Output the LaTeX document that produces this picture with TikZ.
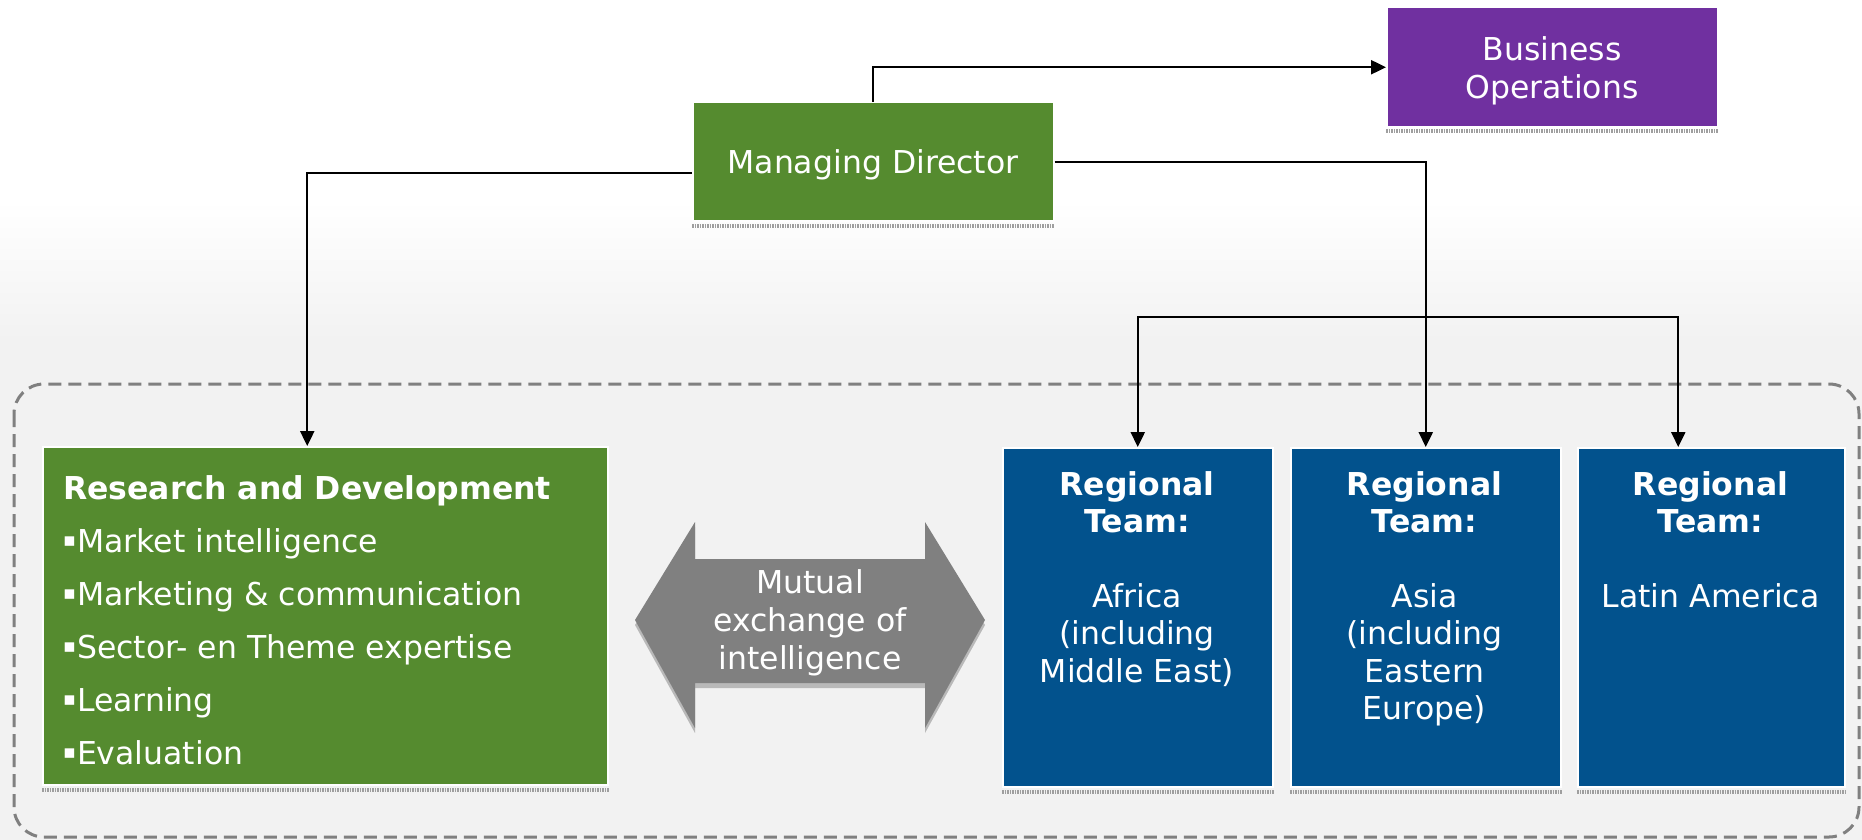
\documentclass[tikz,border=0pt]{standalone}
\usepackage{fontspec}
\setmainfont{DejaVu Sans}
\usetikzlibrary{arrows.meta}
\definecolor{mdgreen}{HTML}{558B2F}
\definecolor{bopurple}{HTML}{7030A0}
\definecolor{rtblue}{HTML}{02528D}
\definecolor{bggray}{HTML}{F2F2F2}
\definecolor{arrgray}{HTML}{808080}
\newcommand\bul{\raisebox{6pt}{\fontsize{19}{19}\selectfont ▪}\hspace{1pt}}
\tikzset{
  boxnode/.style={draw=white, line width=1.5pt, inner sep=0pt, anchor=north west},
  txt/.style={text=white, font=\fontsize{31.5}{37.8}\selectfont, inner sep=0pt, anchor=base},
  btxt/.style={txt, font=\fontsize{31.5}{37.8}\selectfont\bfseries},
  ltxt/.style={txt, anchor=base west},
  arr/.style={line width=2.4pt, -{Triangle[length=15pt,width=14pt]}},
  shstrip/.style={draw=gray!75, line width=4pt, dash pattern=on 1.5pt off 1pt},
  frame/.style={draw=arrgray, line width=3pt, dash pattern=on 13pt off 7pt, rounded corners=30pt}
}
\begin{document}
\begin{tikzpicture}[x=1pt,y=-1pt]
\useasboundingbox (0,0) rectangle (1862,840);
% background
\fill[white] (0,0) rectangle (1862,201);
\shade[top color=white, bottom color=bggray] (0,200) rectangle (1862,341);
\fill[bggray] (0,340) rectangle (1862,840);
% dashed frame
\draw[frame, fill=bggray] (14,384) rectangle (1859,837);

% boxes
\node[boxnode, fill=bopurple, minimum width=331pt, minimum height=119pt] (bo) at (1386,7) {};
\node[boxnode, fill=mdgreen, minimum width=361pt, minimum height=118pt] (md) at (692,102) {};
\node[boxnode, fill=mdgreen, minimum width=565pt, minimum height=338pt] (rd) at (42,446) {};
\node[boxnode, fill=rtblue, minimum width=270pt, minimum height=339pt] (africa) at (1002,447) {};
\node[boxnode, fill=rtblue, minimum width=270pt, minimum height=339pt] (asia) at (1290,447) {};
\node[boxnode, fill=rtblue, minimum width=267pt, minimum height=339pt] (latin) at (1577,447) {};

% box shadows
\foreach \b in {bo,md,rd,africa,asia,latin}{
  \draw[shstrip] ([yshift=-4pt]\b.south west) -- ([yshift=-4pt]\b.south east);
}

% mutual exchange arrow
\fill[gray!55] (635,625) -- (695,527) -- (695,564) -- (925,564) -- (925,527) -- (985,625) -- (925,733) -- (925,688) -- (695,688) -- (695,733) -- cycle;
\fill[arrgray] (635,620) -- (695,522) -- (695,559) -- (925,559) -- (925,522) -- (985,620) -- (925,728) -- (925,683) -- (695,683) -- (695,728) -- cycle;

% texts
\node[txt] (bo1) at (1552,61) {Business};
\node[txt] (bo2) at (1552,99) {Operations};
\node[txt] (mdt) at (873,173) {Managing Director};

\node[btxt, anchor=base west] (rd0) at (63,499) {Research and Development};
\node[ltxt] (rd1) at (63,552) {\bul Market intelligence};
\node[ltxt] (rd2) at (63,605) {\bul Marketing \& communication};
\node[ltxt] (rd3) at (63,658) {\bul Sector- en Theme expertise};
\node[ltxt] (rd4) at (63,711) {\bul Learning};
\node[ltxt] (rd5) at (63,764) {\bul Evaluation};

\node[txt] (mu1) at (810,593) {Mutual};
\node[txt] (mu2) at (810,631) {exchange of};
\node[txt] (mu3) at (810,669) {intelligence};

\node[btxt] (af0) at (1137,495) {Regional};
\node[btxt] (af1) at (1137,532) {Team:};
\node[txt] (af2) at (1137,607) {Africa};
\node[txt] (af3) at (1137,644.5) {(including};
\node[txt] (af4) at (1137,682) {Middle East)};

\node[btxt] (as0) at (1424.5,495) {Regional};
\node[btxt] (as1) at (1424.5,532) {Team:};
\node[txt] (as2) at (1424.5,607) {Asia};
\node[txt] (as3) at (1424.5,644.5) {(including};
\node[txt] (as4) at (1424.5,682) {Eastern};
\node[txt] (as5) at (1424.5,719.5) {Europe)};

\node[btxt] (la0) at (1710.5,495) {Regional};
\node[btxt] (la1) at (1710.5,532) {Team:};
\node[txt] (la2) at (1710.5,607) {Latin America};

% connectors
\draw[arr] (md.north) |- (bo.west);
\draw[arr] ([yshift=-11pt]md.west) -| ([xshift=-18pt]rd.north);
\draw[arr] (md.east) -| (asia.north);
\coordinate (bus) at (1424.5,317);
\draw[arr] (bus) -| (africa.north);
\draw[arr] (bus) -| ([xshift=-33pt]latin.north);
\end{tikzpicture}
\end{document}
